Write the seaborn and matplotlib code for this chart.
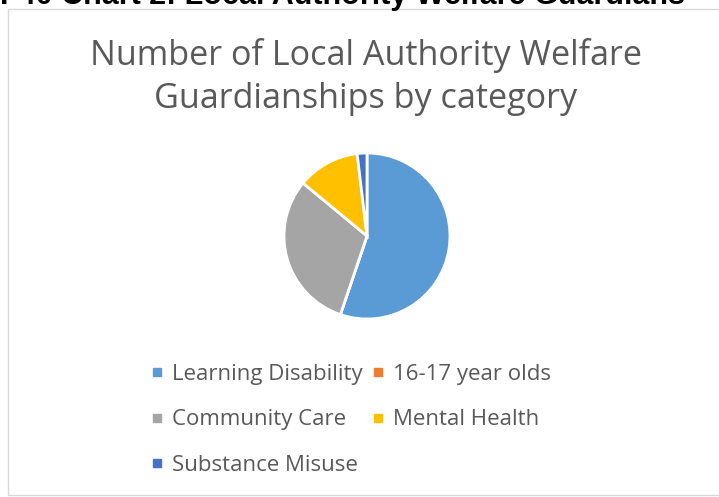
import matplotlib
matplotlib.use("Agg")
import matplotlib.pyplot as plt
import matplotlib.patches as mpatches
from matplotlib.lines import Line2D
import seaborn as sns

categories = ["Learning Disability", "16-17 year olds", "Community Care",
              "Mental Health", "Substance Misuse"]
values = [55.2, 0.0, 30.8, 12.1, 1.9]
colors = ["#5B9BD5", "#ED7D31", "#A5A5A5", "#FFC000", "#4472C4"]
title = "Number of Local Authority Welfare\nGuardianships by category"
header = "F40 Chart 2: Local Authority Welfare Guardians"

sns.set_theme(style="white")
plt.rcParams["font.family"] = ["Open Sans", "DejaVu Sans"]

W, H = 719, 497
fig = plt.figure(figsize=(W / 100, H / 100), dpi=100)
fig.patch.set_facecolor("white")

# chart border
fig.add_artist(mpatches.Rectangle((8 / W, 2 / H), (W - 6) / W, (H - 11) / H,
                                  transform=fig.transFigure, fill=False,
                                  edgecolor="#D9D9D9", linewidth=1.0))

# cropped header text above the chart
fig.text(0 / W, 1 - 4 / H, header, ha="left", va="baseline",
         fontsize=22, fontweight="bold", color="black",
         family=["Liberation Sans", "DejaVu Sans"])

# title
fig.text(366 / W, 1 - 77 / H, title, ha="center", va="center",
         fontsize=24.6, color="#595959", linespacing=1.38)

# pie
cx, cy, r = 367, 236, 83
ax = fig.add_axes([(cx - r) / W, (H - cy - r) / H, 2 * r / W, 2 * r / H])
wedges, _ = ax.pie(values, colors=colors, startangle=90, counterclock=False,
                   wedgeprops=dict(edgecolor="white", linewidth=2))
ax.set_xlim(-1, 1)
ax.set_ylim(-1, 1)
ax.set_aspect("equal")
ax.axis("off")

# legend (row-major order: reorder for matplotlib column-major fill)
order = [0, 2, 4, 1, 3]
handles = [Line2D([], [], marker="s", linestyle="", markersize=5.5,
                  markerfacecolor=colors[i], markeredgecolor=colors[i])
           for i in order]
labels = [categories[i] for i in order]
leg = fig.legend(handles, labels, loc="upper left",
                 bbox_to_anchor=(150 / W, 1 - 364 / H), ncol=2,
                 frameon=False, fontsize=16, handlelength=0.6,
                 handletextpad=0.38, columnspacing=0.38, labelspacing=1.1,
                 borderpad=0, borderaxespad=0)
for t in leg.get_texts():
    t.set_color("#595959")

fig.savefig("out.png", dpi=100)
